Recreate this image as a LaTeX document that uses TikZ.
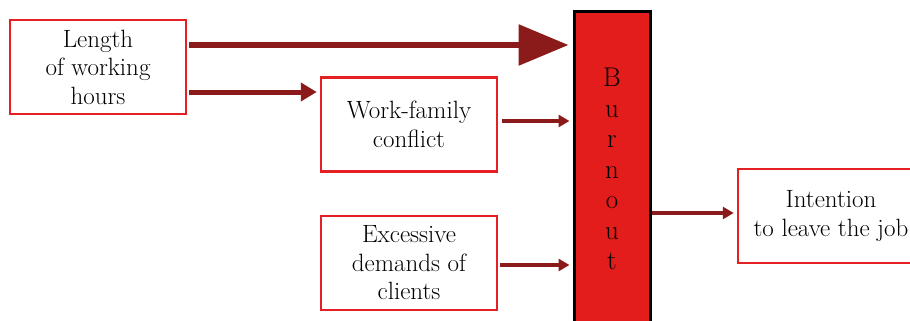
\documentclass[tikz,border=0pt]{standalone}
\usetikzlibrary{arrows.meta}
\definecolor{boxred}{RGB}{228,32,36}
\definecolor{burnred}{RGB}{227,28,28}
\definecolor{arrowred}{RGB}{139,26,26}
\begin{document}
\begin{tikzpicture}[x=1pt, y=-1pt,
  every node/.style = {align=center,
    font=\fontsize{25}{28.5}\selectfont},
  factor/.style = {shape=rectangle, draw=boxred, line width=2.5pt,
    minimum width=176pt, minimum height=94pt, inner sep=0pt},
  burnbox/.style = {shape=rectangle, draw=black, fill=burnred,
    line width=3pt, minimum width=76pt, minimum height=314pt,
    font=\fontsize{27}{30.5}\selectfont},
  link/.style = {draw=arrowred, line width=4.5pt,
    -{Triangle[length=11pt,width=12pt]}},]
  \useasboundingbox (0,0) rectangle (910,321);
  \clip (0,0) rectangle (910,321);
  \node[factor] (hours) at (98,67) {Length\\of working\\hours};
  \node[factor] (conflict) at (409,124.5) {Work-family\\conflict};
  \node[factor] (demands) at (409,263) {Excessive\\demands of\\clients};
  \node[burnbox] (burnout) at (612,169) {B\\u\\r\\n\\o\\u\\t};
  \node[factor, minimum width=186pt] (intention) at (831,216)
    {Intention\\to leave the job};
  % arrows into burnout
  \draw[link, line width=6pt, -{Triangle[length=50pt,width=40pt]},
    shorten <=2pt, shorten >=4pt]
    ([yshift=22pt]hours.east) -- ([yshift=22pt]hours.east -| burnout.west);
  \draw[link, line width=5pt, -{Triangle[length=16pt,width=18pt]},
    shorten <=2pt, shorten >=3pt]
    ([yshift=-25pt]hours.east) -- ([yshift=-25pt]hours.east -| conflict.west);
  \draw[link, shorten <=4pt, shorten >=3pt]
    ([yshift=3.5pt]conflict.east) -- ([yshift=3.5pt]conflict.east -| burnout.west);
  \draw[link, shorten <=2pt, shorten >=3pt]
    ([yshift=-2pt]demands.east) -- ([yshift=-2pt]demands.east -| burnout.west);
  \draw[link, shorten >=3pt]
    ([yshift=3pt]burnout.east |- intention.west) -- ([yshift=3pt]intention.west);
\end{tikzpicture}
\end{document}
